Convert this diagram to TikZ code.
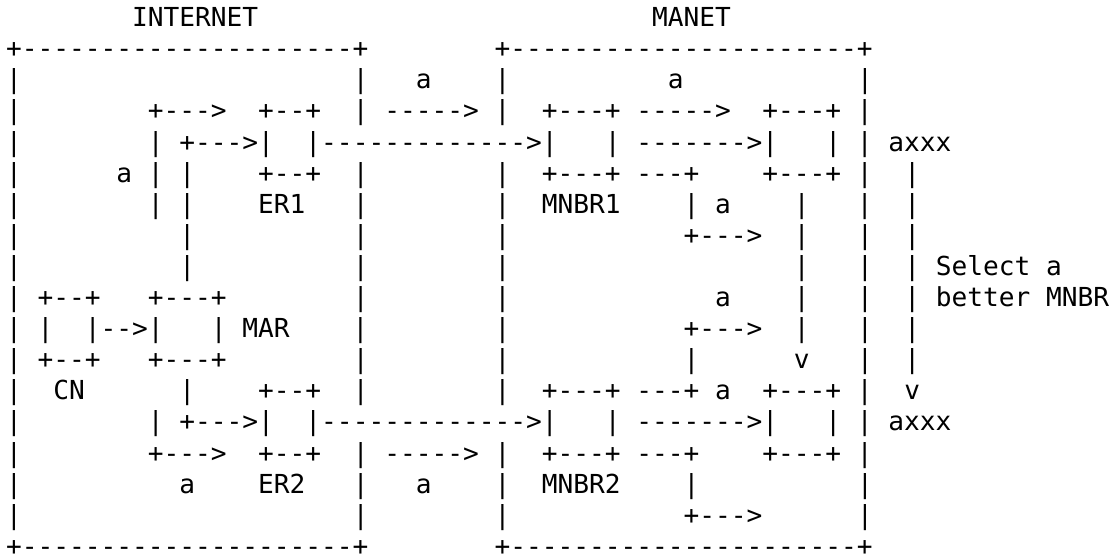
\documentclass[tikz,border=0pt]{standalone}
\usepackage{fontspec}
\setmonofont{DejaVu Sans Mono}
\usetikzlibrary{positioning}

% one blank character cell of the mono font
\newcommand\sk[1]{\hspace*{#1\fontcharwd\font`x}}

\tikzset{
  asciirow/.style={anchor=base west, inner sep=0pt, outer sep=0pt, text depth=0pt,
    font=\ttfamily\fontsize{19.63pt}{23pt}\selectfont},
}

\begin{document}
\begin{tikzpicture}[x=0.75pt, y=-0.75pt]
  \useasboundingbox (0,0) rectangle (1116,555);

  % titles and top borders
  \node[asciirow] (r0)  at (6.1,26.7)  {\sk{8}INTERNET\sk{25}MANET};
  \node[asciirow] (r1)  at (6.1,57.8)  {+---------------------+\sk{8}+----------------------+};
  \node[asciirow] (r2)  at (6.1,88.9)  {|\sk{21}|\sk{3}a\sk{4}|\sk{10}a\sk{11}|};

  % ER1 -> MNBR1
  \node[asciirow] (r3)  at (6.1,120.0) {|\sk{8}+--->\sk{2}+--+\sk{2}|\sk{1}----->\sk{1}|\sk{2}+---+\sk{1}----->\sk{2}+---+\sk{1}|};
  \node[asciirow] (r4)  at (6.1,151.1) {|\sk{8}|\sk{1}+--->|\sk{2}|------------->|\sk{3}|\sk{1}------->|\sk{3}|\sk{1}|\sk{1}axxx};
  \node[asciirow] (r5)  at (6.1,182.2) {|\sk{6}a\sk{1}|\sk{1}|\sk{4}+--+\sk{2}|\sk{8}|\sk{2}+---+\sk{1}---+\sk{4}+---+\sk{1}|\sk{2}|};
  \node[asciirow] (r6)  at (6.1,213.3) {|\sk{8}|\sk{1}|\sk{4}ER1\sk{3}|\sk{8}|\sk{2}MNBR1\sk{4}|\sk{1}a\sk{4}|\sk{3}|\sk{2}|};
  \node[asciirow] (r7)  at (6.1,244.4) {|\sk{10}|\sk{10}|\sk{8}|\sk{11}+--->\sk{2}|\sk{3}|\sk{2}|};
  \node[asciirow] (r8)  at (6.1,275.5) {|\sk{10}|\sk{10}|\sk{8}|\sk{18}|\sk{3}|\sk{2}|\sk{1}Select\sk{1}a};

  % CN -> MAR
  \node[asciirow] (r9)  at (6.1,306.6) {|\sk{1}+--+\sk{3}+---+\sk{8}|\sk{8}|\sk{13}a\sk{4}|\sk{3}|\sk{2}|\sk{1}better\sk{1}MNBR};
  \node[asciirow] (r10) at (6.1,337.7) {|\sk{1}|\sk{2}|-->|\sk{3}|\sk{1}MAR\sk{4}|\sk{8}|\sk{11}+--->\sk{2}|\sk{3}|\sk{2}|};
  \node[asciirow] (r11) at (6.1,368.8) {|\sk{1}+--+\sk{3}+---+\sk{8}|\sk{8}|\sk{11}|\sk{6}v\sk{3}|\sk{2}|};

  % ER2 -> MNBR2
  \node[asciirow] (r12) at (6.1,399.9) {|\sk{2}CN\sk{6}|\sk{4}+--+\sk{2}|\sk{8}|\sk{2}+---+\sk{1}---+\sk{1}a\sk{2}+---+\sk{1}|\sk{2}v};
  \node[asciirow] (r13) at (6.1,431.0) {|\sk{8}|\sk{1}+--->|\sk{2}|------------->|\sk{3}|\sk{1}------->|\sk{3}|\sk{1}|\sk{1}axxx};
  \node[asciirow] (r14) at (6.1,462.1) {|\sk{8}+--->\sk{2}+--+\sk{2}|\sk{1}----->\sk{1}|\sk{2}+---+\sk{1}---+\sk{4}+---+\sk{1}|};
  \node[asciirow] (r15) at (6.1,493.2) {|\sk{10}a\sk{4}ER2\sk{3}|\sk{3}a\sk{4}|\sk{2}MNBR2\sk{4}|\sk{10}|};
  \node[asciirow] (r16) at (6.1,524.3) {|\sk{21}|\sk{8}|\sk{11}+--->\sk{6}|};

  % bottom borders
  \node[asciirow] (r17) at (6.1,555.0) {+---------------------+\sk{8}+----------------------+};
\end{tikzpicture}
\end{document}
